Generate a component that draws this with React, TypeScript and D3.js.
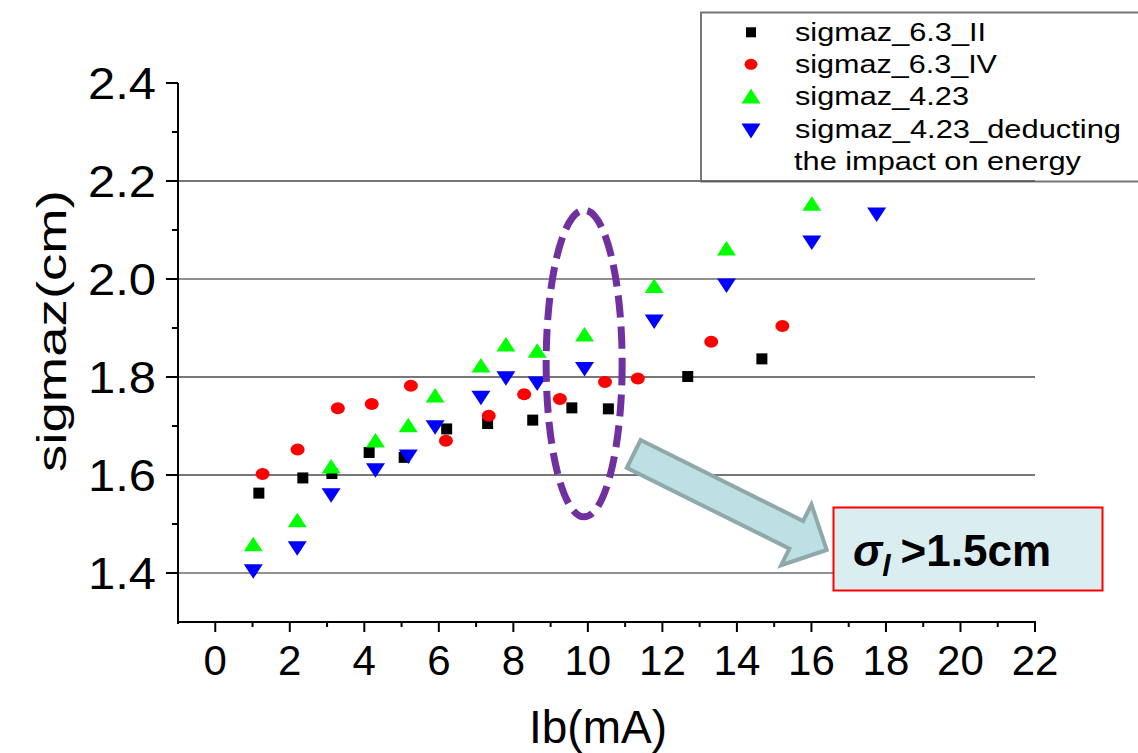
import React from "react";
import * as d3 from "d3";

// ---- data ----
const xTickValues = [0, 2, 4, 6, 8, 10, 12, 14, 16, 18, 20, 22];
const xMinorValues = [1, 3, 5, 7, 9, 11, 13, 15, 17, 19, 21];
const yTickValues = [1.4, 1.6, 1.8, 2.0, 2.2, 2.4];
const yMinorValues = [1.5, 1.7, 1.9, 2.1, 2.3];
const gridValues = [1.4, 1.6, 1.8, 2.0, 2.2];

const sII_x = [1.17, 2.35, 3.13, 4.13, 5.07, 6.21, 7.31, 8.52, 9.57, 10.55, 12.68, 14.67];
const sII_y = [1.563, 1.594, 1.603, 1.646, 1.636, 1.694, 1.705, 1.712, 1.737, 1.735, 1.801, 1.837];

const sIV_x = [1.27, 2.21, 3.29, 4.2, 5.25, 6.19, 7.34, 8.29, 9.25, 10.46, 11.34, 13.31, 15.22];
const sIV_y = [1.602, 1.652, 1.736, 1.745, 1.782, 1.67, 1.721, 1.765, 1.755, 1.79, 1.797, 1.872, 1.904];

const s423_x = [1.02, 2.2, 3.11, 4.3, 5.18, 5.9, 7.13, 7.8, 8.64, 9.91, 11.78, 13.72, 16.01];
const s423_y = [1.459, 1.508, 1.618, 1.671, 1.702, 1.763, 1.824, 1.867, 1.854, 1.887, 1.986, 2.063, 2.154];

const s423d_x = [1.02, 2.2, 3.11, 4.3, 5.18, 5.9, 7.13, 7.8, 8.64, 9.91, 11.78, 13.72, 16.01, 17.75];
const s423d_y = [1.403, 1.45, 1.558, 1.609, 1.637, 1.697, 1.757, 1.797, 1.786, 1.816, 1.913, 1.986, 2.074, 2.131];

const legendLabels = [
  "sigmaz_6.3_II",
  "sigmaz_6.3_IV",
  "sigmaz_4.23",
  "sigmaz_4.23_deducting",
  "the impact on energy",
];

const FONT = "'Liberation Sans', Arial, sans-serif";

const W = 1138;
const H = 753;

export default function App() {
  const x = d3.scaleLinear().domain([-1, 22]).range([178, 1035]);
  const y = d3.scaleLinear().domain([1.3, 2.4]).range([622, 83]);

  const sq = 11;
  const triW = 19;
  const triH = 14.5;

  const upTri = (cx: number, cy: number, w: number, h: number) =>
    `M${cx},${cy - h / 2}L${cx + w / 2},${cy + h / 2}L${cx - w / 2},${cy + h / 2}Z`;
  const downTri = (cx: number, cy: number, w: number, h: number) =>
    `M${cx - w / 2},${cy - h / 2}L${cx + w / 2},${cy - h / 2}L${cx},${cy + h / 2}Z`;

  // annotation anchors in data coordinates
  const ellCx = x(9.9);
  const ellCy = y(1.8276);
  const ellRx = x(9.9 + 1.02) - x(9.9);
  const ellRy = y(1.8276) - y(1.8276 + 0.313);

  const tailX = x(11.23);
  const tailY = y(1.643);
  const tipX = x(16.41);
  const tipY = y(1.447);
  const L = Math.hypot(tipX - tailX, tipY - tailY);
  const ang = (Math.atan2(tipY - tailY, tipX - tailX) * 180) / Math.PI;
  const sw = 15.5;
  const hw = 34;
  const hl = 34;
  const arrowPts = [
    [0, -sw],
    [L - hl, -sw],
    [L - hl, -hw],
    [L, 0],
    [L - hl, hw],
    [L - hl, sw],
    [0, sw],
  ]
    .map((p) => p.join(","))
    .join(" ");

  const legendRowsY = [41, 73, 105, 137.5, 170];
  const legendWidths = [191, 202, 174, 326, 287];

  return (
    <svg
      width={W}
      height={H}
      style={{ position: "absolute", left: 0, top: 0, background: "#fff" }}
      fontFamily={FONT}
    >
      <rect x={0} y={0} width={W} height={H} fill="#fff" />

      {/* gridlines */}
      {gridValues.map((v, i) => (
        <line
          key={"g" + i}
          x1={x(-1)}
          x2={x(22)}
          y1={y(v)}
          y2={y(v)}
          stroke={i % 3 === 0 ? "#222" : "#777"}
          strokeWidth={i % 3 === 0 ? 1.2 : 2}
        />
      ))}

      {/* legend */}
      <rect x={701} y={12.5} width={460} height={169} fill="#fff" stroke="#777" strokeWidth={2} />
      <line x1={701} x2={x(22)} y1={y(2.2)} y2={y(2.2)} stroke="#555" strokeWidth={1.5} />
      <rect x={751 - 5} y={32.3 - 5} width={10} height={10} fill="#000" />
      <ellipse cx={751} cy={64.3} rx={6.5} ry={5.5} fill="#ff0000" />
      <path d={upTri(751, 96, 19, 15)} fill="#00ff00" />
      <path d={downTri(751, 131, 19, 15)} fill="#0000ff" />
      {legendLabels.map((t, i) => (
        <text
          key={"l" + i}
          x={i === 4 ? 794 : 795}
          y={legendRowsY[i]}
          fontSize={25}
          fill="#000"
          textLength={legendWidths[i]}
          lengthAdjust="spacingAndGlyphs"
        >
          {t}
        </text>
      ))}

      {/* axes */}
      <line x1={x(-1)} x2={x(-1)} y1={y(2.4)} y2={y(1.3) + 2} stroke="#000" strokeWidth={2} />
      <line x1={x(-1) - 1} x2={x(22) + 1} y1={y(1.3)} y2={y(1.3)} stroke="#000" strokeWidth={2} />
      {yTickValues.map((v, i) => (
        <g key={"yt" + i}>
          <line x1={x(-1) - 12} x2={x(-1)} y1={y(v)} y2={y(v)} stroke="#000" strokeWidth={2} />
          <text
            x={156}
            y={y(v) + 15.5}
            fontSize={44}
            textAnchor="end"
            fill="#000"
            textLength={68}
            lengthAdjust="spacingAndGlyphs"
          >
            {d3.format(".1f")(v)}
          </text>
        </g>
      ))}
      {yMinorValues.map((v, i) => (
        <line key={"ym" + i} x1={x(-1) - 6} x2={x(-1)} y1={y(v)} y2={y(v)} stroke="#000" strokeWidth={2} />
      ))}
      {xTickValues.map((v, i) => (
        <g key={"xt" + i}>
          <line x1={x(v)} x2={x(v)} y1={y(1.3)} y2={y(1.3) + 10} stroke="#000" strokeWidth={2} />
          <text x={x(v)} y={675} fontSize={42} textAnchor="middle" fill="#000">
            {String(v)}
          </text>
        </g>
      ))}
      {xMinorValues.map((v, i) => (
        <line key={"xm" + i} x1={x(v)} x2={x(v)} y1={y(1.3)} y2={y(1.3) + 5} stroke="#000" strokeWidth={2} />
      ))}

      {/* axis titles */}
      <text x={598} y={743} fontSize={46} textAnchor="middle" fill="#000">
        Ib(mA)
      </text>
      <text
        transform={`translate(66,331) rotate(-90)`}
        fontSize={40}
        textAnchor="middle"
        fill="#000"
        textLength={282}
        lengthAdjust="spacingAndGlyphs"
      >
        sigmaz(cm)
      </text>

      {/* series */}
      {sII_x.map((v, i) => (
        <rect key={"s" + i} x={x(v) - sq / 2} y={y(sII_y[i]) - sq / 2} width={sq} height={sq} fill="#000" />
      ))}
      {sIV_x.map((v, i) => (
        <ellipse key={"c" + i} cx={x(v)} cy={y(sIV_y[i])} rx={7} ry={6} fill="#ff0000" />
      ))}
      {s423_x.map((v, i) => (
        <path key={"u" + i} d={upTri(x(v), y(s423_y[i]), triW, triH)} fill="#00ff00" />
      ))}
      {s423d_x.map((v, i) => (
        <path key={"d" + i} d={downTri(x(v), y(s423d_y[i]), triW, triH)} fill="#0000ff" />
      ))}

      {/* annotations */}
      <ellipse
        cx={ellCx}
        cy={ellCy}
        rx={ellRx}
        ry={ellRy}
        fill="none"
        stroke="#7030A0"
        strokeWidth={7}
        strokeDasharray="22 9"
      />
      <g transform={`translate(${tailX},${tailY}) rotate(${ang})`}>
        <polygon points={arrowPts} fill="#BCE0E3" stroke="#8FA8AA" strokeWidth={4} strokeLinejoin="miter" />
      </g>
      <rect x={833.5} y={507.5} width={269} height={83} fill="#DAEEF1" stroke="#ff0000" strokeWidth={2} />
      <text x={853} y={566} fontSize={44} fontWeight="bold" fill="#000">
        <tspan fontStyle="italic">σ</tspan>
        <tspan fontStyle="italic" fontSize={30} dy={10}>l</tspan>
        <tspan dy={-10} dx={10}>&gt;1.5cm</tspan>
      </text>
    </svg>
  );
}
